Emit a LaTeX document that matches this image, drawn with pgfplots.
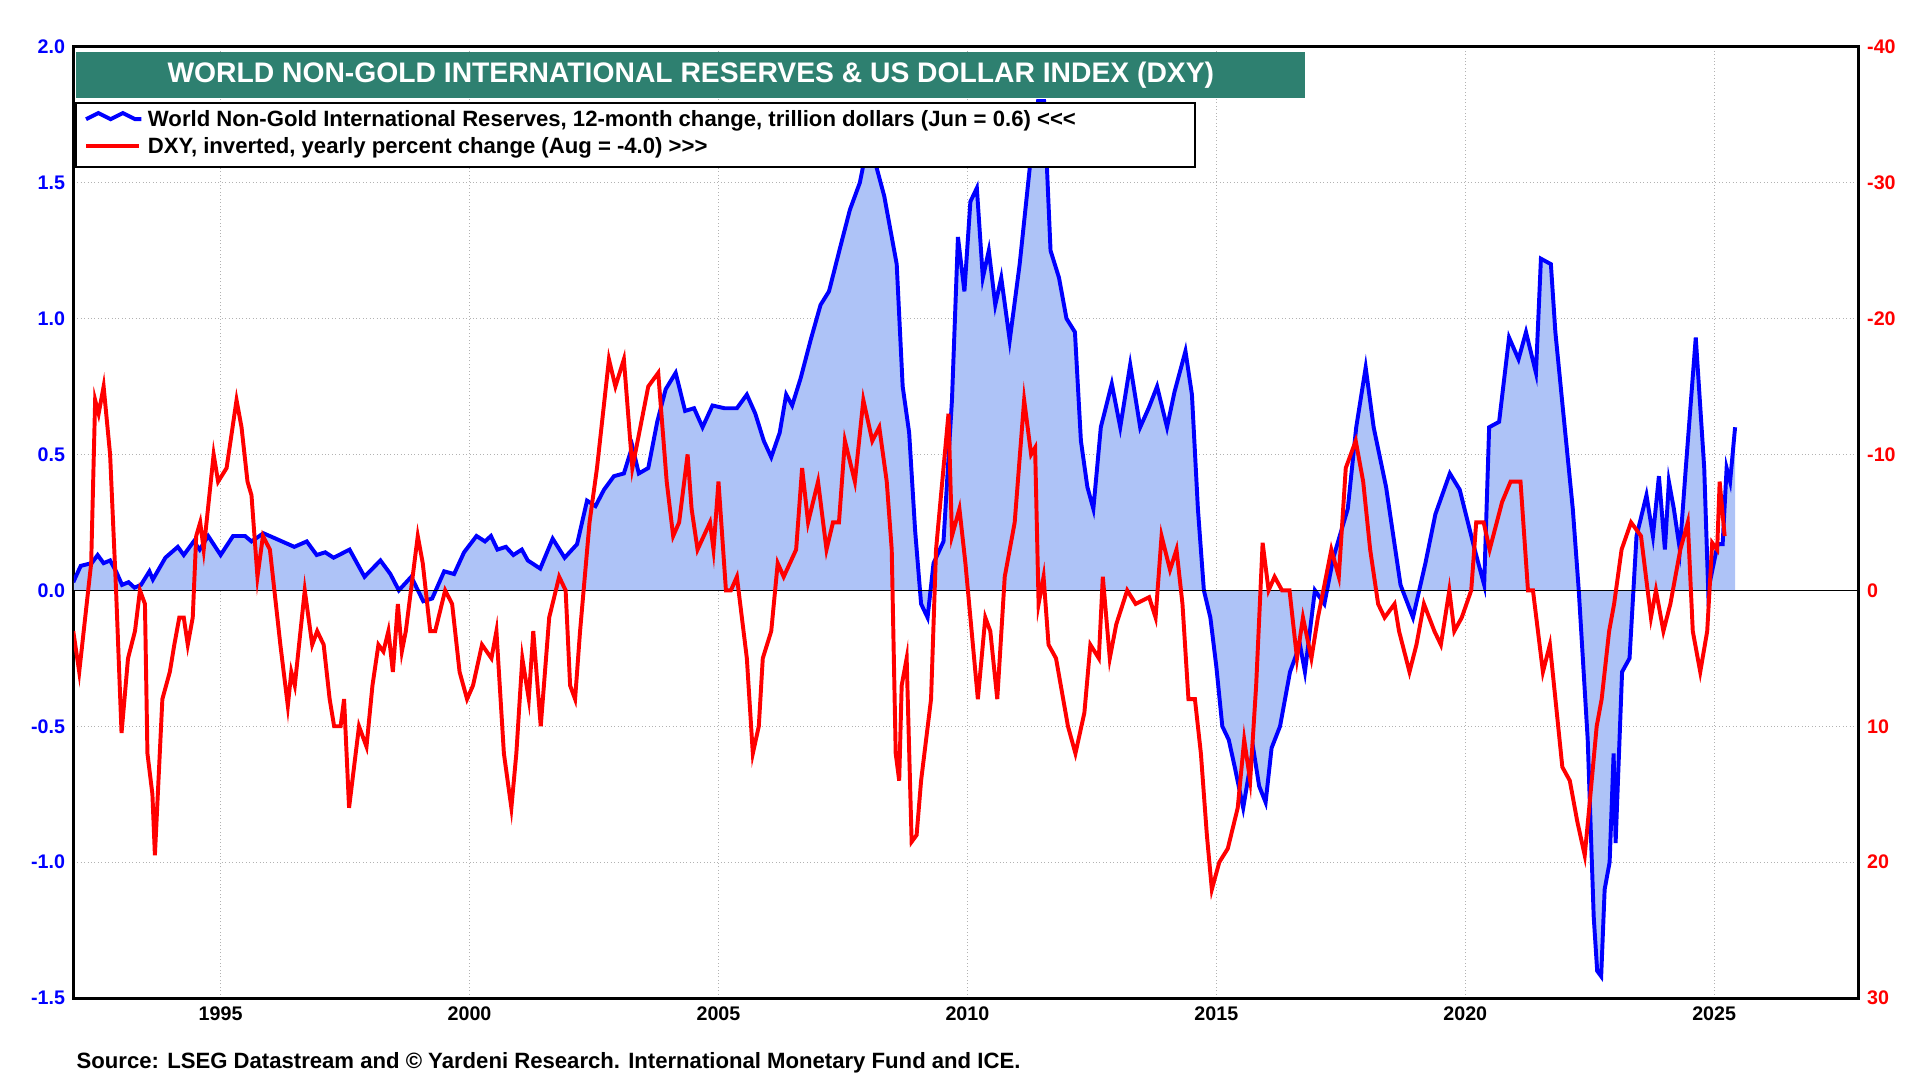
\documentclass[border=0pt]{standalone}
\usepackage{pgfplots}
\pgfplotsset{compat=1.18}
\usepackage{fontspec}
\setmainfont{Liberation Sans}
\definecolor{fillb}{HTML}{AEC3F7}
\definecolor{teal}{HTML}{2E8070}
\newcommand\PX[2]{({(#1)*0.5pt},{(886-(#2))*0.5pt})}
\begin{document}
\begin{tikzpicture}
\path (0pt,0pt) rectangle (781pt,443pt);
\pgfplotsset{every axis/.style={at={(30pt,37pt)},anchor=south west,scale only axis,width=726pt,height=387pt,
 xmin=1992.05,xmax=2027.9, font=\bfseries\fontsize{8}{9}\selectfont,
 /pgf/number format/assume math mode=true,
 tick style={draw=none}}}
\begin{axis}[ymin=-1.5,ymax=2,ytick={-1.5,-1,...,2},
 yticklabel style={text=blue,/pgf/number format/.cd,fixed,fixed zerofill,precision=1},
 xtick={1995,2000,...,2025},xticklabel style={/pgf/number format/1000 sep={}},
 grid=major,grid style={densely dotted,gray!60},axis line style={line width=1.2pt},
 clip=true]
\addplot[draw=none,fill=fillb] coordinates {
(1992.04,0.03)(1992.19,0.09)(1992.41,0.10)(1992.53,0.13)(1992.65,0.10)(1992.78,0.11)(1992.90,0.07)(1993.02,0.02)(1993.15,0.03)(1993.27,0.01)(1993.40,0.02)(1993.57,0.07)(1993.64,0.04)(1993.89,0.12)(1994.14,0.16)(1994.26,0.13)(1994.46,0.18)(1994.58,0.15)(1994.75,0.20)(1995.0,0.13)(1995.25,0.20)(1995.49,0.20)(1995.62,0.18)(1995.86,0.21)(1996.11,0.19)(1996.48,0.16)(1996.73,0.18)(1996.93,0.13)(1997.10,0.14)(1997.27,0.12)(1997.59,0.15)(1997.89,0.05)(1998.21,0.11)(1998.41,0.06)(1998.58,0.00)(1998.83,0.05)(1999.07,-0.04)(1999.25,-0.03)(1999.49,0.07)(1999.69,0.06)(1999.89,0.14)(2000.14,0.20)(2000.31,0.18)(2000.43,0.20)(2000.56,0.15)(2000.73,0.16)(2000.88,0.13)(2001.05,0.15)(2001.17,0.11)(2001.42,0.08)(2001.67,0.19)(2001.91,0.12)(2002.16,0.17)(2002.36,0.33)(2002.53,0.31)(2002.70,0.37)(2002.90,0.42)(2003.10,0.43)(2003.27,0.53)(2003.40,0.43)(2003.59,0.45)(2003.77,0.62)(2003.94,0.74)(2004.14,0.80)(2004.33,0.66)(2004.51,0.67)(2004.68,0.60)(2004.88,0.68)(2005.12,0.67)(2005.37,0.67)(2005.57,0.72)(2005.74,0.65)(2005.91,0.55)(2006.06,0.49)(2006.23,0.58)(2006.36,0.72)(2006.48,0.68)(2006.65,0.78)(2006.85,0.92)(2007.05,1.05)(2007.22,1.10)(2007.47,1.28)(2007.64,1.40)(2007.84,1.50)(2007.96,1.61)(2008.14,1.58)(2008.33,1.45)(2008.58,1.20)(2008.70,0.75)(2008.83,0.58)(2008.95,0.22)(2009.07,-0.05)(2009.20,-0.10)(2009.32,0.10)(2009.52,0.18)(2009.69,0.70)(2009.81,1.30)(2009.94,1.10)(2010.06,1.43)(2010.19,1.48)(2010.31,1.15)(2010.43,1.25)(2010.56,1.05)(2010.68,1.15)(2010.85,0.92)(2011.05,1.20)(2011.25,1.55)(2011.42,1.80)(2011.54,1.80)(2011.67,1.25)(2011.84,1.15)(2011.99,1.00)(2012.16,0.95)(2012.28,0.55)(2012.41,0.38)(2012.53,0.30)(2012.68,0.60)(2012.90,0.76)(2013.07,0.60)(2013.27,0.83)(2013.47,0.60)(2013.64,0.67)(2013.81,0.75)(2014.01,0.60)(2014.16,0.73)(2014.38,0.88)(2014.51,0.72)(2014.63,0.30)(2014.75,0.00)(2014.88,-0.10)(2015.0,-0.28)(2015.12,-0.50)(2015.25,-0.55)(2015.37,-0.65)(2015.54,-0.80)(2015.74,-0.58)(2015.86,-0.72)(2015.99,-0.78)(2016.11,-0.58)(2016.28,-0.50)(2016.48,-0.30)(2016.68,-0.20)(2016.78,-0.30)(2016.98,0.00)(2017.17,-0.05)(2017.35,0.12)(2017.64,0.30)(2017.81,0.60)(2018.0,0.82)(2018.16,0.60)(2018.41,0.38)(2018.70,0.02)(2018.95,-0.10)(2019.20,0.10)(2019.40,0.28)(2019.69,0.43)(2019.89,0.37)(2020.19,0.15)(2020.38,0.02)(2020.48,0.60)(2020.68,0.62)(2020.88,0.93)(2021.07,0.85)(2021.22,0.95)(2021.42,0.80)(2021.52,1.22)(2021.72,1.20)(2021.81,0.95)(2021.96,0.67)(2022.16,0.30)(2022.28,0.00)(2022.46,-0.55)(2022.58,-1.20)(2022.65,-1.40)(2022.73,-1.42)(2022.80,-1.10)(2022.90,-1.00)(2022.98,-0.60)(2023.02,-0.93)(2023.15,-0.30)(2023.30,-0.25)(2023.44,0.20)(2023.64,0.35)(2023.77,0.20)(2023.89,0.42)(2024.01,0.15)(2024.09,0.40)(2024.19,0.30)(2024.31,0.15)(2024.43,0.45)(2024.63,0.93)(2024.80,0.45)(2024.88,0.00)(2025.07,0.17)(2025.17,0.17)(2025.25,0.45)(2025.32,0.40)(2025.42,0.60)} \closedcycle;
\addplot[blue,line width=1.6pt] coordinates {
(1992.04,0.03)(1992.19,0.09)(1992.41,0.10)(1992.53,0.13)(1992.65,0.10)(1992.78,0.11)(1992.90,0.07)(1993.02,0.02)(1993.15,0.03)(1993.27,0.01)(1993.40,0.02)(1993.57,0.07)(1993.64,0.04)(1993.89,0.12)(1994.14,0.16)(1994.26,0.13)(1994.46,0.18)(1994.58,0.15)(1994.75,0.20)(1995.0,0.13)(1995.25,0.20)(1995.49,0.20)(1995.62,0.18)(1995.86,0.21)(1996.11,0.19)(1996.48,0.16)(1996.73,0.18)(1996.93,0.13)(1997.10,0.14)(1997.27,0.12)(1997.59,0.15)(1997.89,0.05)(1998.21,0.11)(1998.41,0.06)(1998.58,0.00)(1998.83,0.05)(1999.07,-0.04)(1999.25,-0.03)(1999.49,0.07)(1999.69,0.06)(1999.89,0.14)(2000.14,0.20)(2000.31,0.18)(2000.43,0.20)(2000.56,0.15)(2000.73,0.16)(2000.88,0.13)(2001.05,0.15)(2001.17,0.11)(2001.42,0.08)(2001.67,0.19)(2001.91,0.12)(2002.16,0.17)(2002.36,0.33)(2002.53,0.31)(2002.70,0.37)(2002.90,0.42)(2003.10,0.43)(2003.27,0.53)(2003.40,0.43)(2003.59,0.45)(2003.77,0.62)(2003.94,0.74)(2004.14,0.80)(2004.33,0.66)(2004.51,0.67)(2004.68,0.60)(2004.88,0.68)(2005.12,0.67)(2005.37,0.67)(2005.57,0.72)(2005.74,0.65)(2005.91,0.55)(2006.06,0.49)(2006.23,0.58)(2006.36,0.72)(2006.48,0.68)(2006.65,0.78)(2006.85,0.92)(2007.05,1.05)(2007.22,1.10)(2007.47,1.28)(2007.64,1.40)(2007.84,1.50)(2007.96,1.61)(2008.14,1.58)(2008.33,1.45)(2008.58,1.20)(2008.70,0.75)(2008.83,0.58)(2008.95,0.22)(2009.07,-0.05)(2009.20,-0.10)(2009.32,0.10)(2009.52,0.18)(2009.69,0.70)(2009.81,1.30)(2009.94,1.10)(2010.06,1.43)(2010.19,1.48)(2010.31,1.15)(2010.43,1.25)(2010.56,1.05)(2010.68,1.15)(2010.85,0.92)(2011.05,1.20)(2011.25,1.55)(2011.42,1.80)(2011.54,1.80)(2011.67,1.25)(2011.84,1.15)(2011.99,1.00)(2012.16,0.95)(2012.28,0.55)(2012.41,0.38)(2012.53,0.30)(2012.68,0.60)(2012.90,0.76)(2013.07,0.60)(2013.27,0.83)(2013.47,0.60)(2013.64,0.67)(2013.81,0.75)(2014.01,0.60)(2014.16,0.73)(2014.38,0.88)(2014.51,0.72)(2014.63,0.30)(2014.75,0.00)(2014.88,-0.10)(2015.0,-0.28)(2015.12,-0.50)(2015.25,-0.55)(2015.37,-0.65)(2015.54,-0.80)(2015.74,-0.58)(2015.86,-0.72)(2015.99,-0.78)(2016.11,-0.58)(2016.28,-0.50)(2016.48,-0.30)(2016.68,-0.20)(2016.78,-0.30)(2016.98,0.00)(2017.17,-0.05)(2017.35,0.12)(2017.64,0.30)(2017.81,0.60)(2018.0,0.82)(2018.16,0.60)(2018.41,0.38)(2018.70,0.02)(2018.95,-0.10)(2019.20,0.10)(2019.40,0.28)(2019.69,0.43)(2019.89,0.37)(2020.19,0.15)(2020.38,0.02)(2020.48,0.60)(2020.68,0.62)(2020.88,0.93)(2021.07,0.85)(2021.22,0.95)(2021.42,0.80)(2021.52,1.22)(2021.72,1.20)(2021.81,0.95)(2021.96,0.67)(2022.16,0.30)(2022.28,0.00)(2022.46,-0.55)(2022.58,-1.20)(2022.65,-1.40)(2022.73,-1.42)(2022.80,-1.10)(2022.90,-1.00)(2022.98,-0.60)(2023.02,-0.93)(2023.15,-0.30)(2023.30,-0.25)(2023.44,0.20)(2023.64,0.35)(2023.77,0.20)(2023.89,0.42)(2024.01,0.15)(2024.09,0.40)(2024.19,0.30)(2024.31,0.15)(2024.43,0.45)(2024.63,0.93)(2024.80,0.45)(2024.88,0.00)(2025.07,0.17)(2025.17,0.17)(2025.25,0.45)(2025.32,0.40)(2025.42,0.60)};
\draw[black,line width=0.5pt] (axis cs:1992,0) -- (axis cs:2028,0);
\end{axis}
\begin{axis}[ymin=-40,ymax=30,y dir=reverse,axis y line*=right,axis x line=none,
 ytick={-40,-30,...,30},yticklabel style={text=red},clip=true]
\addplot[red,line width=1.6pt] coordinates {
(1992.04,3)(1992.16,6)(1992.40,-2)(1992.48,-14)(1992.55,-13)(1992.65,-15)(1992.78,-10)(1992.90,0)(1993.01,10.5)(1993.14,5)(1993.28,3)(1993.38,0)(1993.48,1)(1993.53,12)(1993.63,15)(1993.68,19.5)(1993.83,8)(1993.98,6)(1994.07,4)(1994.17,2)(1994.26,2)(1994.34,4)(1994.44,2)(1994.51,-4)(1994.59,-5)(1994.66,-3)(1994.86,-10)(1994.95,-8)(1995.12,-9)(1995.32,-14)(1995.42,-12)(1995.54,-8)(1995.62,-7)(1995.74,-1)(1995.85,-4)(1995.99,-3)(1996.20,4)(1996.35,8.5)(1996.42,6)(1996.49,7)(1996.69,0)(1996.84,4)(1996.94,3)(1997.07,4)(1997.19,8)(1997.28,10)(1997.41,10)(1997.48,8)(1997.58,16)(1997.68,13)(1997.78,10)(1997.93,11.5)(1998.05,7)(1998.17,4)(1998.27,4.5)(1998.37,3)(1998.46,6)(1998.56,1)(1998.64,4.5)(1998.72,3)(1998.96,-4)(1999.06,-2)(1999.21,3)(1999.31,3)(1999.51,0)(1999.65,1)(1999.80,6)(1999.95,8)(2000.07,7)(2000.25,4)(2000.44,5)(2000.54,3)(2000.69,12)(2000.84,16)(2000.94,12)(2001.06,5)(2001.19,8)(2001.28,3)(2001.43,10)(2001.60,2)(2001.80,-1)(2001.93,0)(2002.02,7)(2002.12,8)(2002.22,3)(2002.41,-5)(2002.56,-9)(2002.65,-12)(2002.80,-17)(2002.93,-15)(2003.10,-17)(2003.27,-9)(2003.59,-15)(2003.79,-16)(2003.96,-8)(2004.09,-4)(2004.21,-5)(2004.38,-10)(2004.46,-6)(2004.58,-3)(2004.83,-5)(2004.90,-3)(2005.00,-8)(2005.15,0)(2005.25,0)(2005.37,-1)(2005.57,5)(2005.69,12)(2005.81,10)(2005.89,5)(2006.06,3)(2006.19,-2)(2006.31,-1)(2006.56,-3)(2006.68,-9)(2006.80,-5)(2007.00,-8)(2007.17,-3)(2007.30,-5)(2007.42,-5)(2007.54,-11)(2007.74,-8)(2007.91,-14)(2008.09,-11)(2008.23,-12)(2008.38,-8)(2008.48,-3)(2008.56,12)(2008.63,14)(2008.68,7)(2008.78,5)(2008.88,18.5)(2008.98,18)(2009.07,14)(2009.17,11)(2009.27,8)(2009.37,-3)(2009.52,-9)(2009.62,-13)(2009.69,-4)(2009.84,-6)(2009.96,-2)(2010.16,6)(2010.21,8)(2010.36,2)(2010.46,3)(2010.60,8)(2010.75,-1)(2010.95,-5)(2011.14,-14)(2011.28,-10)(2011.36,-10.5)(2011.43,1)(2011.53,-1)(2011.63,4)(2011.78,5)(2012.02,10)(2012.17,12)(2012.35,9)(2012.47,4)(2012.64,5)(2012.72,-1)(2012.86,5)(2012.99,2.5)(2013.21,0)(2013.38,1)(2013.65,0.5)(2013.78,2)(2013.90,-4)(2014.07,-1.5)(2014.20,-3)(2014.32,1)(2014.44,8)(2014.57,8)(2014.69,12)(2014.81,18)(2014.91,22)(2015.06,20)(2015.23,19)(2015.43,16)(2015.56,11)(2015.68,14)(2015.80,7)(2015.93,-3.5)(2016.05,0)(2016.17,-1)(2016.32,0)(2016.47,0)(2016.62,5)(2016.74,2)(2016.91,5)(2017.04,2)(2017.15,0)(2017.31,-3)(2017.46,-1)(2017.60,-9)(2017.80,-11)(2017.95,-8)(2018.09,-3)(2018.25,1)(2018.38,2)(2018.58,1)(2018.67,3)(2018.88,6)(2019.02,4)(2019.17,1)(2019.38,3)(2019.51,4)(2019.68,0)(2019.78,3)(2019.93,2)(2020.12,0)(2020.22,-5)(2020.37,-5)(2020.49,-3)(2020.74,-6.5)(2020.91,-8)(2021.11,-8)(2021.26,0)(2021.36,0)(2021.56,6)(2021.70,4)(2021.95,13)(2022.10,14)(2022.25,17)(2022.40,19.5)(2022.49,16)(2022.64,10)(2022.74,8)(2022.89,3)(2022.99,1)(2023.14,-3)(2023.33,-5)(2023.53,-4)(2023.73,2)(2023.83,0)(2023.98,3)(2024.12,1)(2024.32,-3)(2024.47,-5)(2024.57,3)(2024.72,6)(2024.86,3)(2024.96,-3.5)(2025.06,-3)(2025.11,-8)(2025.21,-4)};
\end{axis}
\node[fill=teal,text=white,font=\bfseries\fontsize{11.5}{13}\selectfont,minimum width=500pt,minimum height=19pt,inner sep=0] at \PX{562}{61} {WORLD NON-GOLD INTERNATIONAL RESERVES \& US DOLLAR INDEX (DXY)};
\draw[fill=white,line width=1pt] \PX{62}{84} rectangle \PX{972}{136};
\draw[blue,line width=1.6pt] \PX{70}{97}--\PX{80}{92}--\PX{90}{97}--\PX{100}{92}--\PX{110}{97}--\PX{115}{97};
\draw[red,line width=1.6pt] \PX{70}{119}--\PX{113}{119};
\node[anchor=west,font=\bfseries\fontsize{9}{10}\selectfont,inner sep=0] at \PX{120}{98} {World Non-Gold International Reserves, 12-month change, trillion dollars (Jun = 0.6) <{}<{}<};
\node[anchor=west,font=\bfseries\fontsize{9}{10}\selectfont,inner sep=0] at \PX{120}{120} {DXY, inverted, yearly percent change (Aug = -4.0) >{}>{}>};
\node[anchor=west,font=\bfseries\fontsize{9}{10}\selectfont,inner sep=0] at \PX{62}{865} {Source: LSEG Datastream and © Yardeni Research. International Monetary Fund and ICE.};
\end{tikzpicture}
\end{document}
